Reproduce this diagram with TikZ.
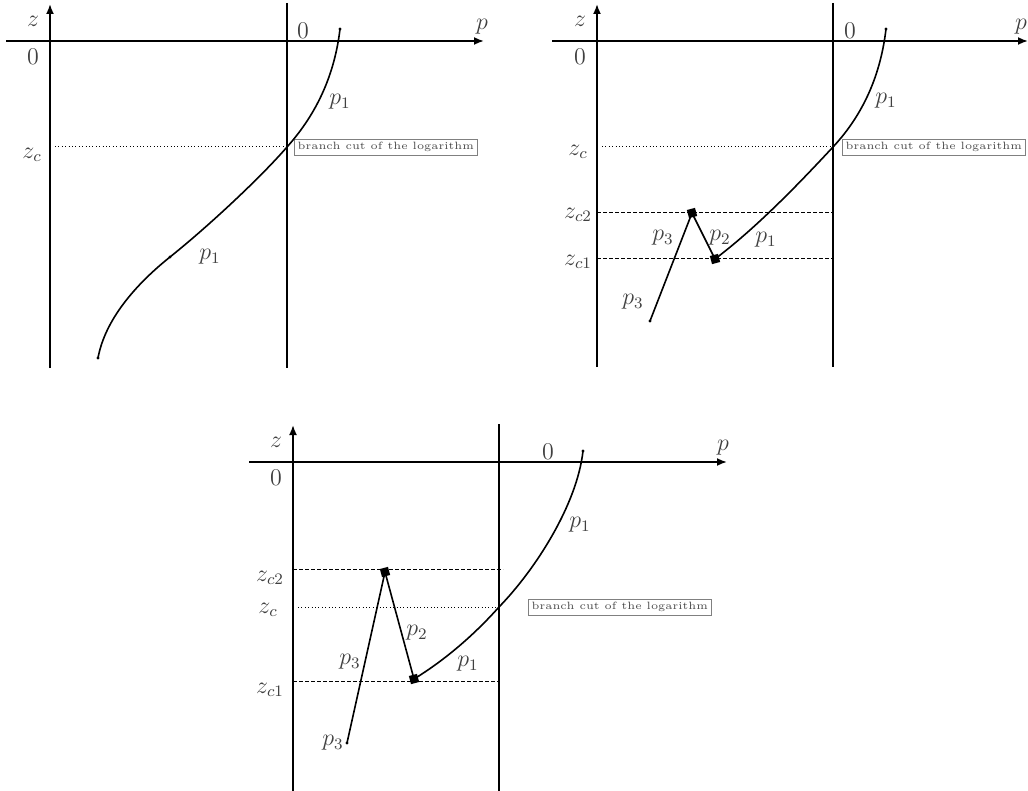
\documentclass[tikz,border=0pt]{standalone}
\usepackage{amsmath}
\usetikzlibrary{arrows.meta,calc}
\begin{document}
\begin{tikzpicture}[x=0.5pt,y=-0.5pt, every node/.style={font=\fontsize{11.5}{13}\selectfont,text=black!75},
  axis/.style={line width=0.9pt,-{Latex[length=5pt,width=4pt]}},
  wall/.style={line width=0.9pt},
  traj/.style={line width=0.8pt},
  cutline/.style={line width=0.5pt,dash pattern=on 0.5pt off 1.2pt},
  levline/.style={line width=0.5pt,dash pattern=on 2pt off 1pt},
  cutbox/.style={draw=black!50,line width=0.4pt,font=\fontsize{5.3}{6}\selectfont,inner sep=1.6pt,text=black!70,anchor=west},
  kink/.style={fill=black,minimum size=4.2pt,inner sep=0pt,rotate=15},
  tip/.style={fill=black,circle,inner sep=0pt,minimum size=1.6pt}]
  \useasboundingbox (0,0) rectangle (1028,791);
  % frame helper: z-axis x, wall x, p-axis y, top, bottom, left, right, tag
  \newcommand{\frm}[8]{
    \draw[axis] (#1,#5) -- (#1,#4);
    \draw[axis] (#6,#3) -- (#7,#3);
    \draw[wall] (#2,#4-1) -- (#2,#5);
    \node (z#8) at ($(#1,#3)+(-17,-20)$) {$z$};
    \node (zero#8) at ($(#1,#3)+(-17,16)$) {$0$};
  }

  % ---- panel 1 ----
  \frm{50}{287}{41}{4}{368}{6}{484}{a}
  \node (wa) at (303,31) {$0$};
  \node (pa) at (482,27) {$p$};
  \draw[cutline] (55,147) -- (287,147);
  \node (zca) at (32,155) {$z_c$};
  \node[cutbox] (cuta) at (294,147) {branch cut of the logarithm};
  \draw[traj] (340,29) .. controls (334,80) and (313,118) .. (287,147)
    .. controls (262,176) and (210,225) .. (170,257)
    .. controls (135,285) and (105,320) .. (98,358);
  \node[tip] (ta1) at (340,29) {};
  \node[tip] (ta2) at (98,358) {};
  \node[tip] (ta3) at (170,257) {};
  \node (p1a) at (340,102) {$p_1$};
  \node (p1b) at (210,257) {$p_1$};

  % ---- panel 2 ----
  \frm{597}{833}{41}{4}{367}{552}{1028}{b}
  \node (wb) at (850,31) {$0$};
  \node (pb) at (1021,27) {$p$};
  \draw[cutline] (602,147) -- (833,147);
  \draw[levline] (597,213) -- (833,213);
  \draw[levline] (597,259) -- (833,259);
  \node (zcb) at (578,152) {$z_c$};
  \node (zc2b) at (578,215) {$z_{c2}$};
  \node (zc1b) at (578,262) {$z_{c1}$};
  \node[cutbox] (cutb) at (842,147) {branch cut of the logarithm};
  \node[kink] (kb2) at (692,213) {};
  \node[kink] (kb1) at (715,259) {};
  \draw[traj] (886,29) .. controls (880,80) and (860,118) .. (833,147)
    .. controls (805,177) and (760,225) .. (kb1.center);
  \draw[traj] (kb1.center) -- (kb2.center) -- (650,321);
  \node[tip] (tb1) at (886,29) {};
  \node[tip] (tb2) at (650,321) {};
  \node (p3b) at (663,238) {$p_3$};
  \node (p2b) at (720,238) {$p_2$};
  \node (p1c) at (766,240) {$p_1$};
  \node (p3c) at (633,302) {$p_3$};
  \node (p1d) at (886,101) {$p_1$};

  % ---- panel 3 ----
  \frm{293}{499}{462}{425}{791}{249}{727}{c}
  \node (wc) at (548,452) {$0$};
  \node (pc) at (723,448) {$p$};
  \draw[levline] (293,569) -- (503,569);
  \draw[cutline] (298,607) -- (499,607);
  \draw[levline] (293,681) -- (499,681);
  \node (zc2c) at (270,578) {$z_{c2}$};
  \node (zcc) at (268,610) {$z_c$};
  \node (zc1c) at (270,690) {$z_{c1}$};
  \node[cutbox] (cutc) at (528,607) {branch cut of the logarithm};
  \node[kink] (kc2) at (385,572) {};
  \node[kink] (kc1) at (414,679) {};
  \draw[traj] (583,451) .. controls (577,505) and (535,570) .. (499,607)
    .. controls (474,635) and (445,660) .. (kc1.center);
  \draw[traj] (kc1.center) -- (kc2.center) -- (347,743);
  \node[tip] (tc1) at (583,451) {};
  \node[tip] (tc2) at (347,743) {};
  \node (p2e) at (417,633) {$p_2$};
  \node (p3e) at (350,662) {$p_3$};
  \node (p1e) at (468,664) {$p_1$};
  \node (p3f) at (333,743) {$p_3$};
  \node (p1f) at (580,525) {$p_1$};
\end{tikzpicture}
\end{document}
